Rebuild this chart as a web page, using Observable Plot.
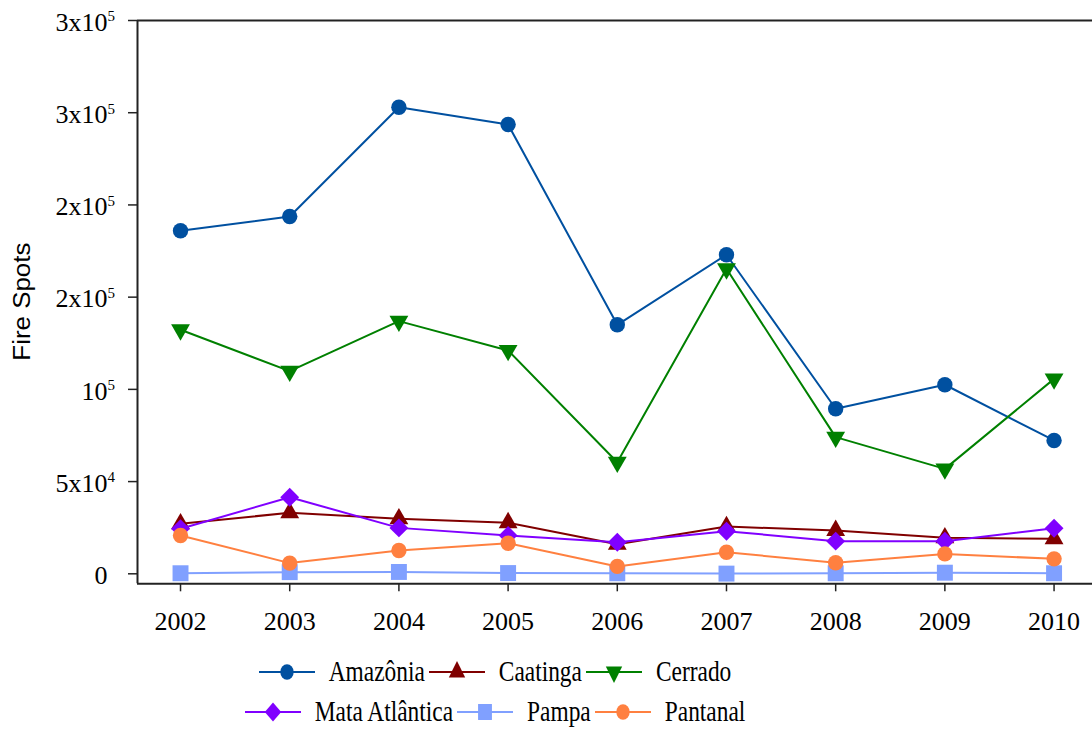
<!DOCTYPE html>
<html>
<head>
<meta charset="utf-8">
<script src="https://cdn.jsdelivr.net/npm/d3@7"></script>
<script src="https://cdn.jsdelivr.net/npm/@observablehq/plot@0.6"></script>
<style>
  html, body { margin: 0; padding: 0; background: #fff; }
  #chart { position: relative; width: 1092px; height: 729px; overflow: hidden; background: #fff; }
  #chart svg.plot { display: block; }
  .legend { position: absolute; left: 0; top: 640px; width: 994px; padding-top: 12px;
            font-family: "Liberation Serif", "Times New Roman", serif; color: #000; }
  .legend .row { display: flex; justify-content: center; align-items: center; height: 40px; }
  .legend .item { display: flex; align-items: center; }
  .legend .item svg { display: block; margin-right: 14px; overflow: visible; }
  .legend .lbl { display: inline-block; font-size: 23.4px; line-height: 1; transform: scaleY(1.3); margin-right: 4px; white-space: nowrap; }
</style>
</head>
<body>
<div id="chart"></div>
<script>
// ---------- data ----------
const years = [2002, 2003, 2004, 2005, 2006, 2007, 2008, 2009, 2010];
const xTickLabels = ["2002", "2003", "2004", "2005", "2006", "2007", "2008", "2009", "2010"];
const seriesNames = ["Amazônia", "Caatinga", "Cerrado", "Mata Atlântica", "Pampa", "Pantanal"];
const amazonia      = [186000, 193700, 253000, 243600, 135000, 173000, 89500, 102500, 72300];
const caatinga      = [27100, 33100, 29800, 27700, 16000, 25600, 23500, 19500, 19000];
const cerrado       = [132300, 109900, 137000, 121100, 60500, 165400, 74100, 56900, 105700];
const mataAtlantica = [24400, 41500, 24900, 20800, 17100, 23100, 17700, 17700, 24700];
const pampa         = [300, 900, 1000, 400, 300, 100, 300, 600, 300];
const pantanal      = [20800, 5800, 12600, 16600, 4000, 11700, 6000, 10800, 8100];
const yTicks = [0, 50000, 100000, 150000, 200000, 250000, 300000];
const yTickLabels = ["0", "5x10^4", "10^5", "2x10^5", "2x10^5", "3x10^5", "3x10^5"];
const yLabel = "Fire Spots";

// ---------- styles ----------
const serif = "'Liberation Serif', 'Times New Roman', serif";
const sans = "'Liberation Sans', Arial, sans-serif";
const xDomain = [2001.606, 2010.352];
const yDomain = [-5422, 300000];
const seriesValues = [amazonia, caatinga, cerrado, mataAtlantica, pampa, pantanal];
const colors = ["#0050a0", "#800000", "#008000", "#8000ff", "#80a0ff", "#ff8040"];
const triangleDown = {
  draw(ctx, size) {
    const y = -Math.sqrt(size / (Math.sqrt(3) * 3));
    ctx.moveTo(0, -y * 2);
    ctx.lineTo(Math.sqrt(3) * y, y);
    ctx.lineTo(-Math.sqrt(3) * y, y);
    ctx.closePath();
  }
};
const symbols = ["circle", "triangle", triangleDown, "diamond2", "square", "circle"];
const d3symbols = [d3.symbolCircle, d3.symbolTriangle, triangleDown, d3.symbolDiamond2, d3.symbolSquare, d3.symbolCircle];
const radii = [7.7, 7, 7, 8.5, 9, 7.7];
const axisColor = "#222";

const yTickBase = yTickLabels.map(s => s.split("^")[0]);
const yTickSup = yTickLabels.map(s => s.split("^")[1] || "");

// ---------- marks ----------
const marks = [
  Plot.ruleY([yDomain[1]], {stroke: axisColor, strokeWidth: 2}),
  Plot.ruleY([yDomain[0]], {stroke: axisColor, strokeWidth: 2}),
  Plot.ruleX([xDomain[0]], {stroke: axisColor, strokeWidth: 2}),
  Plot.axisY({ticks: yTicks, tickSize: 9, tickFormat: () => "", label: null, stroke: axisColor, strokeWidth: 1.5}),
  Plot.axisX({ticks: years, tickSize: 8, tickPadding: 19.5, tickFormat: d => xTickLabels[years.indexOf(d)],
              label: null, stroke: axisColor, strokeWidth: 1.5, fontSize: 26, fontFamily: serif, fill: "#000"}),
  Plot.text(yTicks, {y: d => d, frameAnchor: "left", text: (d, i) => yTickBase[i], textAnchor: "end",
                     dx: -30, dy: 2, fontSize: 26, fontFamily: serif, fill: "#000"}),
  Plot.text(yTicks, {y: d => d, frameAnchor: "left", text: (d, i) => yTickSup[i], textAnchor: "start",
                     dx: -30, dy: -4, fontSize: 15, fontFamily: serif, fill: "#000"})
];
seriesNames.forEach((name, s) => {
  const rows = years.map((yr, i) => ({year: yr, value: seriesValues[s][i], series: name}));
  marks.push(Plot.line(rows, {x: "year", y: "value", stroke: colors[s], strokeWidth: 2}));
  marks.push(Plot.dot(rows, {x: "year", y: "value", fill: colors[s], stroke: "none", symbol: symbols[s], r: radii[s]}));
});

const plot = Plot.plot({
  width: 1092,
  height: 640,
  marginLeft: 137,
  marginRight: 0,
  marginTop: 20,
  marginBottom: 56.7,
  style: {background: "white", fontFamily: serif, fontSize: "26px", overflow: "visible", color: "#000"},
  x: {type: "linear", domain: xDomain},
  y: {type: "linear", domain: yDomain},
  marks
});
plot.classList.add("plot");
const chart = document.getElementById("chart");
chart.appendChild(plot);

// y-axis title
d3.select(plot).append("text")
  .attr("transform", `translate(22,${(20 + 583.3) / 2}) rotate(-90)`)
  .attr("text-anchor", "middle")
  .attr("dominant-baseline", "central")
  .attr("font-family", sans)
  .attr("font-size", 23.5)
  .attr("fill", "#000")
  .attr("textLength", 118)
  .attr("lengthAdjust", "spacingAndGlyphs")
  .text(yLabel);

// ---------- legend ----------
const legend = d3.select(chart).append("div").attr("class", "legend");
const rowsIdx = [[0, 1, 2], [3, 4, 5]];
rowsIdx.forEach(idxs => {
  const row = legend.append("div").attr("class", "row");
  idxs.forEach(s => {
    const item = row.append("div").attr("class", "item");
    const sw = item.append("svg").attr("width", 56).attr("height", 24);
    sw.append("line").attr("x1", 0).attr("x2", 56).attr("y1", 12).attr("y2", 12)
      .attr("stroke", colors[s]).attr("stroke-width", 2);
    sw.append("path")
      .attr("d", d3.symbol(d3symbols[s], Math.PI * radii[s] * radii[s])())
      .attr("transform", "translate(28,12) scale(0.87,1)")
      .attr("fill", colors[s]);
    item.append("span").attr("class", "lbl").text(seriesNames[s]);
  });
});
</script>
</body>
</html>
